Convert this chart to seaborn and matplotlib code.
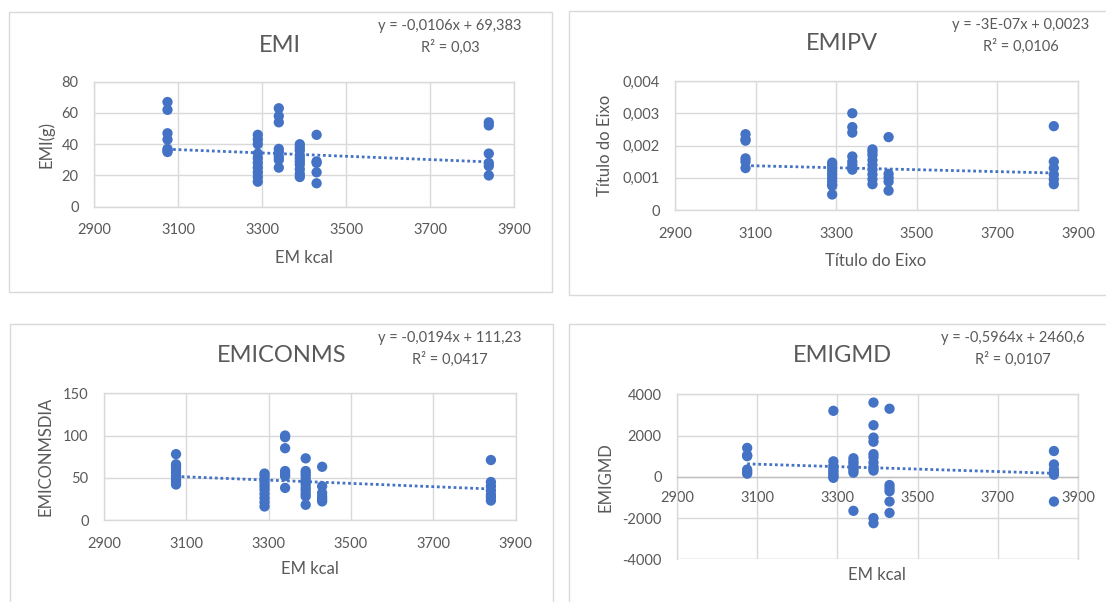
import matplotlib
matplotlib.use("Agg")
import matplotlib.pyplot as plt
import numpy as np
import pandas as pd
import seaborn as sns
from matplotlib.patches import Rectangle
from matplotlib.ticker import FuncFormatter, MultipleLocator

# Energy levels of the diets (EM kcal)
em_levels = [3075, 3290, 3340, 3390, 3430, 3840]
em_ticks = [2900, 3100, 3300, 3500, 3700, 3900]

# EMI (g) per energy level
emi_values = [
    [67, 62, 47, 43, 37, 35, 36],
    [46, 43, 40, 34, 31, 28, 25, 22, 19, 16],
    [63, 58, 54, 37, 35, 32, 30, 25],
    [40, 38, 36, 33, 31, 29, 27, 24, 21, 19],
    [46, 29, 28, 22, 15],
    [54, 52, 34, 28, 26, 20],
]

# EMIPV per energy level
emipv_values = [
    [0.00235, 0.0022, 0.00215, 0.0016, 0.0015, 0.0013],
    [0.00147, 0.0014, 0.0013, 0.0012, 0.0011, 0.001, 0.0009, 0.0008, 0.00075, 0.00048],
    [0.003, 0.00257, 0.0024, 0.00166, 0.0015, 0.0014, 0.0013, 0.00125],
    [0.00188, 0.0018, 0.0017, 0.00155, 0.0014, 0.00125, 0.0011, 0.00095, 0.0008],
    [0.00226, 0.00112, 0.001, 0.00088, 0.0006],
    [0.0026, 0.0015, 0.0013, 0.0011, 0.00095, 0.0008],
]

# EMICONMSDIA per energy level
emiconms_values = [
    [78, 66, 63, 60, 56, 52, 48, 45, 42],
    [55, 52, 48, 44, 40, 36, 31, 26, 21, 16],
    [100, 98, 85, 58, 55, 52, 38],
    [73, 58, 55, 52, 48, 45, 42, 38, 35, 31, 28, 18],
    [63, 40, 32, 28, 25, 22],
    [71, 45, 40, 35, 30, 27, 23],
]

# EMIGMD per energy level
emigmd_values = [
    [1400, 1050, 1000, 350, 250, 150],
    [3200, 750, 550, 400, 300, 200, 100, 0, -50],
    [900, 750, 650, 500, 400, 300, 200, -1650],
    [3600, 2500, 1900, 1700, 1100, 950, 700, 500, 400, 300, -2000, -2250],
    [3300, -400, -550, -700, -1200, -1750],
    [1250, 600, 350, 200, 100, -1200],
]

# Linear trendlines: slope, intercept, R²
trend_slopes = [-0.0106, -3e-07, -0.0194, -0.5964]
trend_intercepts = [69.383, 0.0023, 111.23, 2460.6]
trend_r2 = [0.03, 0.0106, 0.0417, 0.0107]

titles = ["EMI", "EMIPV", "EMICONMS", "EMIGMD"]
x_titles = ["EM kcal", "Título do Eixo", "EM kcal", "EM kcal"]
y_titles = ["EMI(g)", "Título do Eixo", "EMICONMSDIA", "EMIGMD"]
y_ranges = [(0, 80, 20), (0, 0.004, 0.001), (0, 150, 50), (-4000, 4000, 2000)]

BLUE = "#4472C4"
GRID = "#D9D9D9"
TEXT = "#595959"

sns.set_theme(style="white")
plt.rcParams["font.family"] = ["Lato", "DejaVu Sans"]
plt.rcParams["axes.unicode_minus"] = False

W, H = 1106, 602
fig = plt.figure(figsize=(W / 100, H / 100), dpi=100)
fig.patch.set_facecolor("white")


def frac(x0, y0, x1, y1):
    return [x0 / W, 1 - y1 / H, (x1 - x0) / W, (y1 - y0) / H]


def fx(x):
    return x / W


def fy(y):
    return 1 - y / H


def fmt_num(v):
    if v != 0 and abs(v) < 1e-4:
        s = f"{v:.0E}"
    else:
        s = f"{v:g}"
    return s.replace(".", ",")


# chart frames (pixel boxes)
frames = [(9, 12, 552, 292), (569, 11, 1115, 295), (10, 324, 553, 612), (569, 324, 1115, 612)]
plot_boxes = [(94, 81.7, 514, 206.7), (675, 81, 1078, 210), (104, 393.3, 515.6, 520), (677, 394.3, 1078, 559.3)]
title_pos = [(280, 45), (842, 43), (282, 356), (842, 356)]
eq_pos = [(450, 26, 47), (1021, 25, 46), (450, 338, 359), (1013, 338, 359)]
xlab_pos = [(304, 258), (876, 261), (310, 569), (877, 575)]
ylab_x = [46, 605, 46, 605]

for (x0, y0, x1, y1) in frames:
    fig.patches.append(Rectangle((fx(x0), fy(y1)), fx(x1) - fx(x0), fy(y0) - fy(y1),
                                 transform=fig.transFigure, facecolor="white",
                                 edgecolor=GRID, linewidth=1.0, zorder=-5))

panels = [emi_values, emipv_values, emiconms_values, emigmd_values]

for i, values in enumerate(panels):
    em = [lvl for lvl, vals in zip(em_levels, values) for _ in vals]
    val = [v for vals in values for v in vals]
    df = pd.DataFrame({"em": em, "val": val})

    ax = fig.add_axes(frac(*plot_boxes[i]))
    ax.set_zorder(2)
    ax.set_facecolor("none")

    sns.scatterplot(data=df, x="em", y="val", ax=ax, color=BLUE, s=55,
                    edgecolor="none", linewidth=0, zorder=3)

    xs = np.array([min(em), max(em)], dtype=float)
    ys = trend_slopes[i] * xs + trend_intercepts[i]
    sns.lineplot(x=xs, y=ys, ax=ax, color=BLUE, linewidth=2.0,
                 linestyle=(0, (1, 1)), zorder=4)
    ax.lines[-1].set_dash_capstyle("butt")

    ymin, ymax, ystep = y_ranges[i]
    ax.set_xlim(em_ticks[0], em_ticks[-1])
    ax.set_ylim(ymin, ymax)
    ax.set_xticks(em_ticks)
    ax.yaxis.set_major_locator(MultipleLocator(ystep))
    ax.yaxis.set_major_formatter(FuncFormatter(lambda v, p: fmt_num(round(v, 6))))
    ax.xaxis.set_major_formatter(FuncFormatter(lambda v, p: f"{v:.0f}"))

    ax.grid(True, color=GRID, linewidth=1.0, zorder=0)
    ax.set_axisbelow(True)
    for sp in ax.spines.values():
        sp.set_visible(True)
        sp.set_color(GRID)
        sp.set_linewidth(1.0)

    ax.tick_params(axis="both", length=0, labelsize=10.5, labelcolor=TEXT)
    ax.tick_params(axis="y", pad=11)
    ax.tick_params(axis="x", pad=12)
    ax.set_xlabel("")
    ax.set_ylabel("")

    if ymin < 0:
        ax.spines["bottom"].set_position(("data", 0))
        ax.spines["bottom"].set_color("#BFBFBF")
        ax.axhline(ymin, color=GRID, linewidth=1.0, zorder=1)
        ax.tick_params(axis="x", pad=10)

    tx, ty = title_pos[i]
    fig.text(fx(tx), fy(ty), titles[i], ha="center", va="center",
             fontsize=17, color=TEXT)

    ex, ey1, ey2 = eq_pos[i]
    fig.text(fx(ex), fy(ey1),
             f"y = {fmt_num(trend_slopes[i])}x + {fmt_num(trend_intercepts[i])}",
             ha="center", va="center", fontsize=10.5, color=TEXT)
    fig.text(fx(ex), fy(ey2), f"R² = {fmt_num(trend_r2[i])}",
             ha="center", va="center", fontsize=10.5, color=TEXT)

    lx, ly = xlab_pos[i]
    fig.text(fx(lx), fy(ly), x_titles[i], ha="center", va="center",
             fontsize=12, color=TEXT)
    bx0, by0, bx1, by1 = plot_boxes[i]
    fig.text(fx(ylab_x[i]), fy((by0 + by1) / 2), y_titles[i], ha="center",
             va="center", rotation=90, fontsize=12, color=TEXT)

fig.savefig("out.png", dpi=100, facecolor="white")
